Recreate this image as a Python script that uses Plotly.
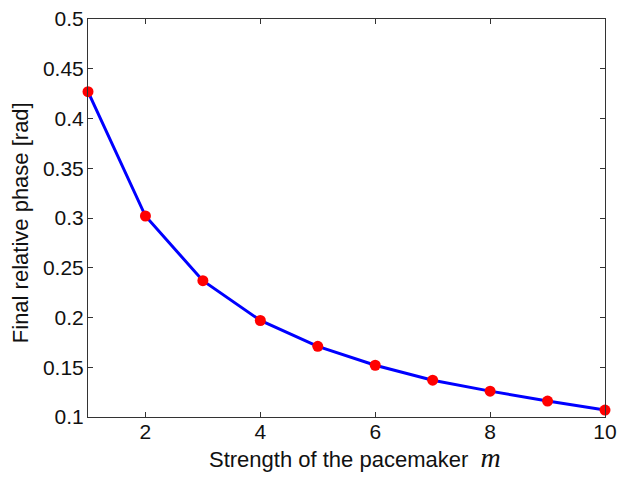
import plotly.graph_objects as go

m = [1, 2, 3, 4, 5, 6, 7, 8, 9, 10]
phase = [0.427, 0.302, 0.237, 0.197, 0.171, 0.152, 0.137, 0.126, 0.116, 0.107]

x_ticks = [2, 4, 6, 8, 10]
y_ticks = [0.1, 0.15, 0.2, 0.25, 0.3, 0.35, 0.4, 0.45, 0.5]
y_labels = ['0.1', '0.15', '0.2', '0.25', '0.3', '0.35', '0.4', '0.45', '0.5']

fig = go.Figure()
fig.add_trace(go.Scatter(x=m, y=phase, mode='lines+markers',
                         line=dict(color='#0000ff', width=3),
                         marker=dict(color='#ff0000', size=11),
                         cliponaxis=False))

axis_style = dict(showgrid=False, zeroline=False, showline=True,
                  linecolor='#333333', linewidth=1, mirror='ticks',
                  ticks='inside', ticklen=5, tickcolor='#333333',
                  automargin=False, ticklabeloverflow='allow',
                  tickfont=dict(family='Liberation Sans', size=21, color='#111111'))

fig.update_xaxes(range=[1, 10], tickvals=x_ticks, ticklabelstandoff=-4, **axis_style)
fig.update_yaxes(range=[0.1, 0.5], tickvals=y_ticks, ticktext=y_labels,
                 ticklabelstandoff=-1, **axis_style)

title_font = dict(family='Liberation Sans', size=22, color='#111111')
fig.add_annotation(xref='paper', yref='paper', x=0.516, y=-0.103, yanchor='middle',
                   text="Strength of the pacemaker  <i><span style='font-family:Liberation Serif;font-size:28px'>m</span></i>",
                   showarrow=False, font=title_font)
fig.add_annotation(xref='paper', yref='paper', x=-0.1315, y=0.487, textangle=-90,
                   xanchor='center', yanchor='middle',
                   text='Final relative phase [rad]', showarrow=False, font=title_font)

# page body has an 8px margin, so the figure is a bit smaller than the window
fig.update_layout(width=613, height=467, showlegend=False,
                  margin=dict(l=80, r=16, t=11, b=58),
                  plot_bgcolor='white', paper_bgcolor='white')

fig.write_html("out.html")
